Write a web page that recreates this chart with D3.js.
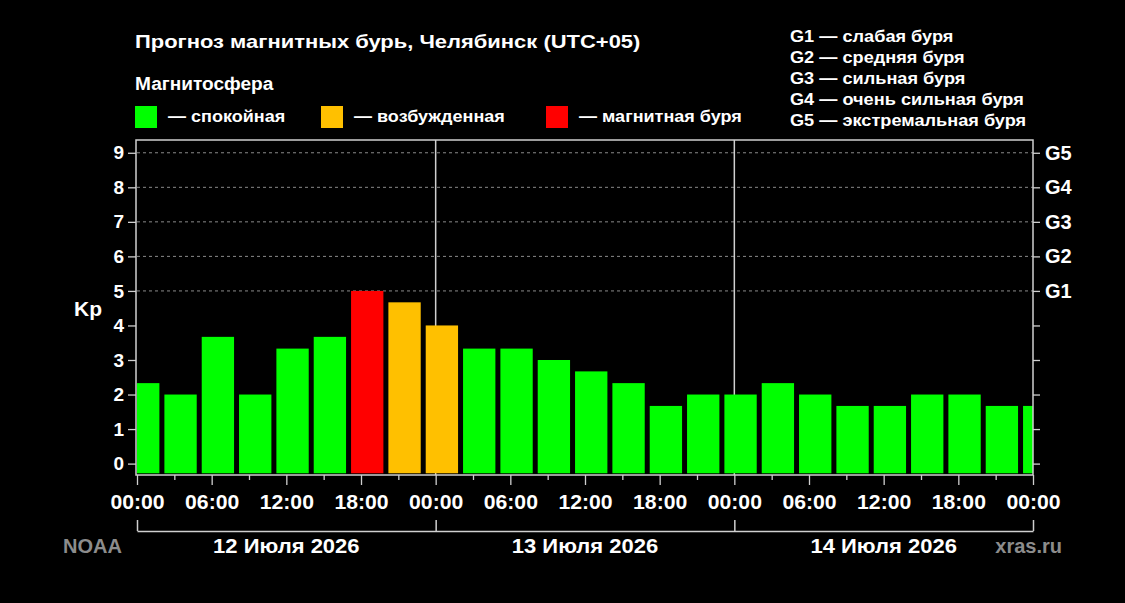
<!DOCTYPE html>
<html>
<head>
<meta charset="utf-8">
<script src="https://cdn.jsdelivr.net/npm/d3@7"></script>
<style>
    html, body { margin: 0; padding: 0; background: #000; }
    svg { display: block; }
    text { font-family: "Liberation Sans", Arial, sans-serif; font-weight: bold; }
</style>
</head>
<body>
<svg id="chart" width="1125" height="603"></svg>
<script>
// Kp forecast, 3-hour slots, local time UTC+05
var slotHours = [0, 3, 6, 9, 12, 15, 18, 21, 24, 27, 30, 33, 36, 39, 42, 45, 48, 51, 54, 57, 60, 63, 66, 69, 72];
var kpValues = [2.33, 2.0, 3.67, 2.0, 3.33, 3.67, 5.0, 4.67, 4.0, 3.33, 3.33, 3.0, 2.67, 2.33, 1.67, 2.0, 2.0, 2.33, 2.0, 1.67, 1.67, 2.0, 2.0, 1.67, 1.67];

var kpTicks = [0, 1, 2, 3, 4, 5, 6, 7, 8, 9];
var stormLevels = [5, 6, 7, 8, 9];
var stormLabels = ["G1", "G2", "G3", "G4", "G5"];
var stormNames = ["G1 — слабая буря", "G2 — средняя буря", "G3 — сильная буря", "G4 — очень сильная буря", "G5 — экстремальная буря"];

var hourTicks = [0, 6, 12, 18, 24, 30, 36, 42, 48, 54, 60, 66, 72];
var minorTicks = [3, 9, 15, 21, 27, 33, 39, 45, 51, 57, 63, 69];
var hourLabels = ["00:00", "06:00", "12:00", "18:00"];
var dayStarts = [0, 24, 48, 72];
var dayLabels = ["12 Июля 2026", "13 Июля 2026", "14 Июля 2026"];

var legendLabels = ["— спокойная", "— возбужденная", "— магнитная буря"];

(function(d3) {

    var colors = { quiet: "#00ff00", active: "#ffc000", storm: "#ff0000" };
    var lineColor = "#cfcfcf";

    var svg = d3.select("#chart");
    svg.append("rect").attr("width", 1125).attr("height", 603).attr("fill", "#000");

    var x = d3.scaleLinear().domain([0, 72]).range([137, 1033]);
    var y = d3.scaleLinear().domain([-0.33, 9.37]).range([475, 140]);

    var kpColor = function(v) {
        if (v >= 5) return colors.storm;
        if (v >= 4) return colors.active;
        return colors.quiet;
    };

    // the source font runs a little wider than Liberation Sans
    var stretch = function(sel, k) {
        sel.each(function() {
            var w = this.getComputedTextLength();
            d3.select(this).attr("textLength", w * k).attr("lengthAdjust", "spacingAndGlyphs");
        });
    };

    // titles
    svg.append("text").attr("x", 135).attr("y", 48).attr("fill", "#fff")
        .style("font-size", "19px").text("Прогноз магнитных бурь, Челябинск (UTC+05)")
        .call(stretch, 1.155);
    svg.append("text").attr("x", 135).attr("y", 90).attr("fill", "#fff")
        .style("font-size", "18px").text("Магнитосфера")
        .call(stretch, 1.06);

    // colour legend
    var legendX = [135, 321, 546];
    var legendColors = [colors.quiet, colors.active, colors.storm];
    var legend = svg.append("g").selectAll("g")
        .data(legendLabels)
        .enter()
        .append("g")
        .attr("transform", function(d, i) { return "translate(" + legendX[i] + ",106)"; });
    legend.append("rect").attr("width", 22).attr("height", 22)
        .attr("fill", function(d, i) { return legendColors[i]; });
    legend.append("text").attr("x", 33).attr("y", 16).attr("fill", "#fff")
        .style("font-size", "17px").text(function(d) { return d; })
        .call(stretch, 1.06);

    // storm scale legend
    svg.append("g").selectAll("text")
        .data(stormNames)
        .enter()
        .append("text")
        .attr("x", 790)
        .attr("y", function(d, i) { return 42 + i * 21; })
        .attr("fill", "#fff")
        .style("font-size", "16.5px")
        .text(function(d) { return d; })
        .call(stretch, 1.1);

    // grid for storm levels
    svg.append("g").selectAll("line")
        .data(stormLevels)
        .enter()
        .append("line")
        .attr("x1", x(0)).attr("x2", x(72))
        .attr("y1", function(d) { return y(d); })
        .attr("y2", function(d) { return y(d); })
        .attr("stroke", "#8a8a8a")
        .attr("stroke-width", 1)
        .attr("stroke-dasharray", "3,3");

    // day separators
    svg.append("g").selectAll("line")
        .data([24, 48])
        .enter()
        .append("line")
        .attr("x1", function(d) { return x(d); })
        .attr("x2", function(d) { return x(d); })
        .attr("y1", y.range()[1]).attr("y2", y.range()[0])
        .attr("stroke", lineColor)
        .attr("stroke-width", 1.5);

    // bars
    svg.append("clipPath").attr("id", "plotClip")
        .append("rect")
        .attr("x", x(0)).attr("y", y.range()[1])
        .attr("width", x(72) - x(0)).attr("height", y.range()[0] - y.range()[1]);

    var barWidth = x(3) - x(0) - 5;
    svg.append("g").attr("clip-path", "url(#plotClip)")
        .selectAll("rect")
        .data(kpValues)
        .enter()
        .append("rect")
        .attr("x", function(d, i) { return x(slotHours[i] + 0.5) - barWidth / 2; })
        .attr("y", function(d) { return y(d); })
        .attr("width", barWidth)
        .attr("height", function(d) { return y(-0.28) - y(d); })
        .attr("fill", kpColor);

    // frame
    svg.append("rect")
        .attr("x", x(0) - 1).attr("y", y.range()[1])
        .attr("width", x(72) - x(0) + 1).attr("height", y.range()[0] - y.range()[1])
        .attr("fill", "none")
        .attr("stroke", lineColor)
        .attr("stroke-width", 1.5);

    var styleAxis = function(g, size) {
        g.select(".domain").remove();
        g.selectAll("line").attr("stroke", lineColor).attr("stroke-width", 1.3);
        g.selectAll("text").attr("fill", "#fff").style("font-size", size);
    };

    // left Kp axis
    svg.append("g")
        .attr("transform", "translate(" + (x(0) - 1) + ",0)")
        .call(d3.axisLeft(y).tickValues(kpTicks).tickSize(8).tickPadding(4).tickFormat(d3.format("d")))
        .call(styleAxis, "19px");

    svg.append("text").attr("x", 74).attr("y", 316).attr("fill", "#fff")
        .style("font-size", "21px").text("Kp");

    // right G axis
    svg.append("g")
        .attr("transform", "translate(" + x(72) + ",0)")
        .call(d3.axisRight(y).tickValues(kpTicks).tickSize(7).tickPadding(5)
            .tickFormat(function(d) {
                var k = stormLevels.indexOf(d);
                return k < 0 ? "" : stormLabels[k];
            }))
        .call(styleAxis, "20px");

    // time axis
    svg.append("g")
        .attr("transform", "translate(0," + y.range()[0] + ")")
        .call(d3.axisBottom(x).tickValues(minorTicks).tickSize(5).tickFormat(""))
        .call(styleAxis, "20px");

    svg.append("g")
        .attr("transform", "translate(0," + y.range()[0] + ")")
        .call(d3.axisBottom(x).tickValues(hourTicks).tickSize(10).tickPadding(10)
            .tickFormat(function(d) { return hourLabels[(d % 24) / 6]; }))
        .call(styleAxis, "20px")
        .selectAll("text").call(stretch, 1.06);

    // day bracket
    var dayAxis = svg.append("g")
        .attr("transform", "translate(0,531)")
        .call(d3.axisTop(x).tickValues(dayStarts).tickSize(11).tickSizeOuter(0).tickFormat(""));
    dayAxis.selectAll("line, path").attr("stroke", lineColor).attr("stroke-width", 1.5);

    svg.append("g").selectAll("text")
        .data(dayLabels)
        .enter()
        .append("text")
        .attr("x", function(d, i) { return x((dayStarts[i] + dayStarts[i + 1]) / 2); })
        .attr("y", 553)
        .attr("text-anchor", "middle")
        .attr("fill", "#fff")
        .style("font-size", "20px")
        .text(function(d) { return d; })
        .call(stretch, 1.1);

    // sources
    svg.append("text").attr("x", 63).attr("y", 553).attr("fill", "#8c8c8c")
        .style("font-size", "20px").text("NOAA");
    svg.append("text").attr("x", 1062).attr("y", 553).attr("text-anchor", "end")
        .attr("fill", "#8c8c8c").style("font-size", "20px").text("xras.ru");

})(d3);
</script>
</body>
</html>
